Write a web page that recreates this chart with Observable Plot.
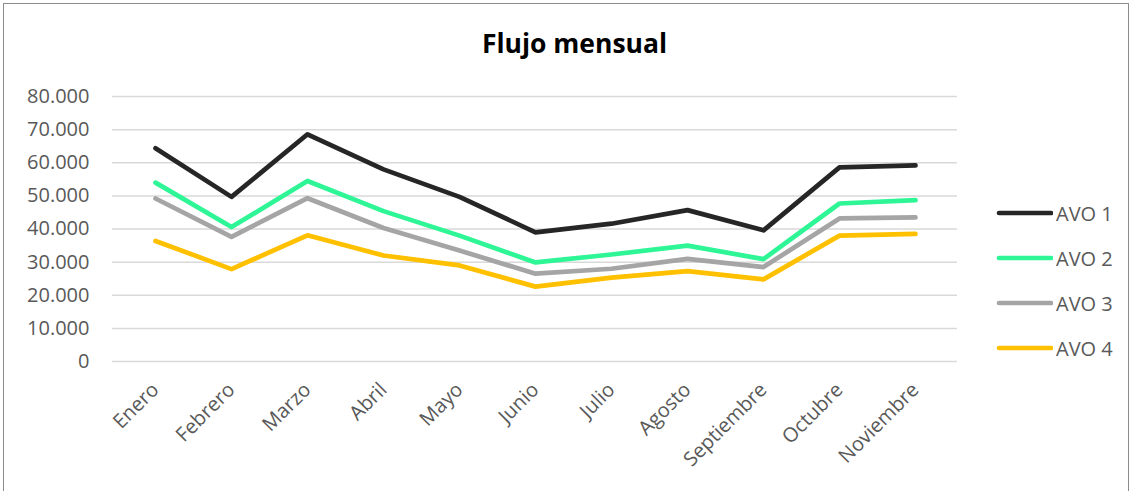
<!DOCTYPE html>
<html>
<head>
<meta charset="utf-8">
<script src="https://cdn.jsdelivr.net/npm/d3@7"></script>
<script src="https://cdn.jsdelivr.net/npm/@observablehq/plot@0.6"></script>
<style>
  html, body { margin: 0; padding: 0; background: #fff; }
  #wrap { position: relative; width: 1133px; height: 491px; overflow: hidden; font-family: "Open Sans", sans-serif; }
  #frame { position: absolute; left: 3px; top: 3px; width: 1126px; height: 500px; border: 1px solid #8c8c8c; box-sizing: border-box; }
  #title { position: absolute; left: 8px; width: 1133px; top: 25px; text-align: center; font-weight: 700; font-size: 26.5px; line-height: 36px; color: #000; }
  #chart { position: absolute; left: 0; top: 0; }
  #legend { position: absolute; left: 996px; top: 0; }
  .item { position: absolute; left: 0; display: flex; align-items: center; white-space: nowrap; }
  .item span { font-size: 20px; color: #595959; margin-left: 3px; }
</style>
</head>
<body>
<div id="wrap">
  <div id="frame"></div>
  <div id="chart"></div>
  <div id="title">Flujo mensual</div>
  <div id="legend"></div>
</div>
<script>
const months = ["Enero","Febrero","Marzo","Abril","Mayo","Junio","Julio","Agosto","Septiembre","Octubre","Noviembre"];
const seriesNames = ["AVO 1","AVO 2","AVO 3","AVO 4"];
const avo1 = [64400, 49700, 68600, 58000, 49700, 39000, 41600, 45700, 39600, 58600, 59200];
const avo2 = [54000, 40600, 54500, 45400, 38000, 29900, 32300, 35000, 30900, 47700, 48700];
const avo3 = [49200, 37600, 49300, 40300, 33500, 26500, 28000, 31000, 28500, 43200, 43500];
const avo4 = [36400, 27900, 38100, 32000, 29000, 22600, 25300, 27300, 24800, 38000, 38500];
const yTicks = [0, 10000, 20000, 30000, 40000, 50000, 60000, 70000, 80000];
const colors = ["#262626", "#2ef595", "#a5a5a5", "#ffc000"];

const allSeries = [avo1, avo2, avo3, avo4];
const data = [];
allSeries.forEach((arr, si) => arr.forEach((v, i) => data.push({month: months[i], value: v, series: seriesNames[si]})));

const locale = d3.formatLocale({decimal: ",", thousands: ".", grouping: [3], currency: ["", ""]});
const fmt = locale.format(",.0f");

const plot = Plot.plot({
  width: 1133,
  height: 491,
  marginLeft: 112,
  marginRight: 176,
  marginTop: 96,
  marginBottom: 130,
  style: {fontFamily: "Open Sans, sans-serif", fontSize: "20px", color: "#595959", background: "transparent", overflow: "visible"},
  x: {type: "point", domain: months, padding: 0.5, label: null},
  y: {domain: [0, 80000], label: null},
  color: {domain: seriesNames, range: colors},
  marks: [
    Plot.gridY(yTicks, {stroke: "#d9d9d9", strokeOpacity: 1, strokeWidth: 1.5}),
    Plot.axisY(yTicks, {tickSize: 0, tickPadding: 23, tickFormat: fmt, fill: "#595959", label: null}),
    Plot.axisX({tickSize: 0, tickRotate: -45, tickPadding: 25, fill: "#595959", label: null}),
    Plot.line(data, {x: "month", y: "value", z: "series", stroke: "series", strokeWidth: 4.7, strokeLinecap: "round", strokeLinejoin: "round"})
  ]
});
document.getElementById("chart").appendChild(plot);

const legend = document.getElementById("legend");
const legendY = [213, 258, 303, 348];
seriesNames.forEach((name, i) => {
  const d = document.createElement("div");
  d.className = "item";
  d.style.top = (legendY[i] - 15) + "px";
  d.innerHTML = `<svg width="57" height="30"><line x1="3" y1="15" x2="55" y2="15" stroke="${colors[i]}" stroke-width="4.7" stroke-linecap="round"/></svg><span>${name}</span>`;
  legend.appendChild(d);
});
</script>
</body>
</html>
